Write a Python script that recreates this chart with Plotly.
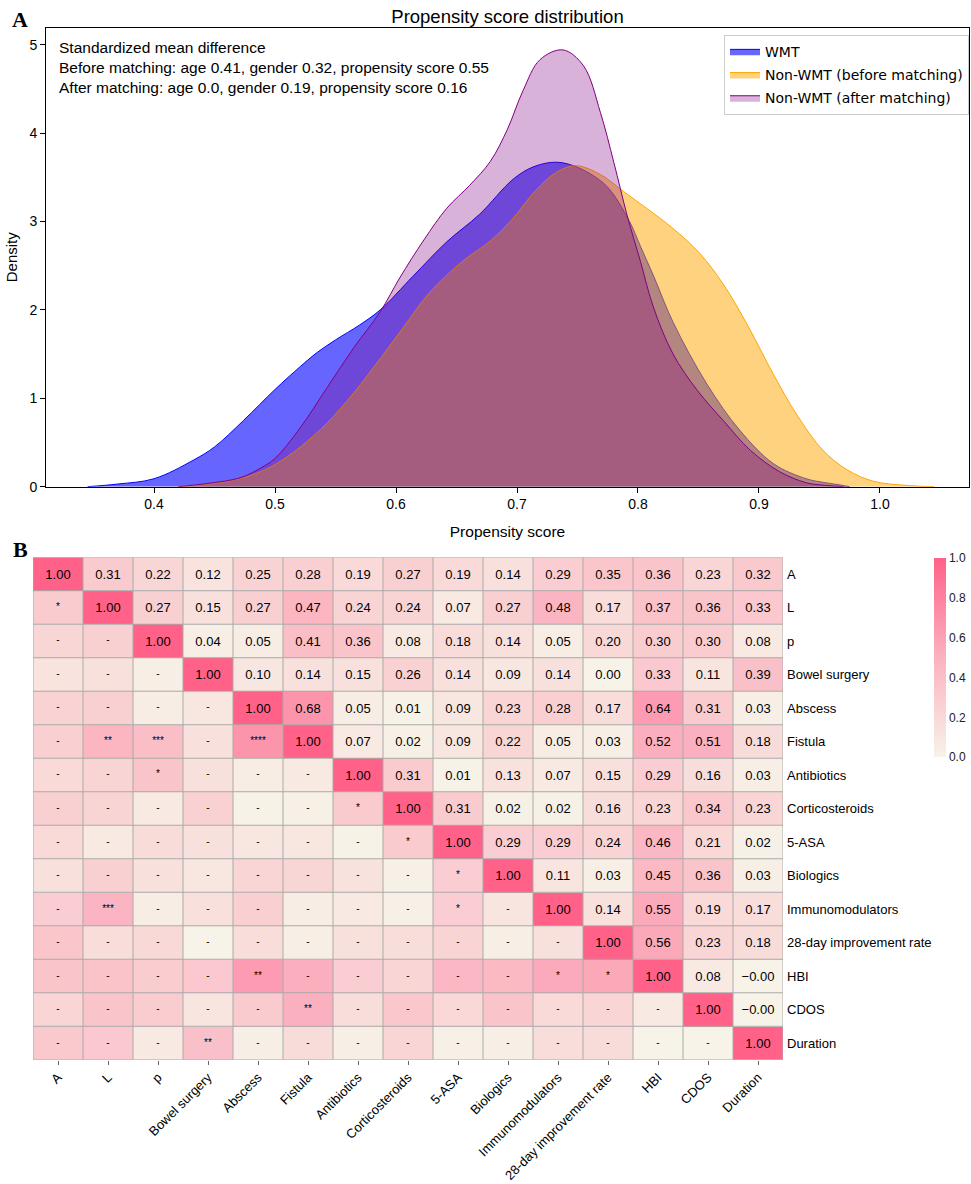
import plotly.graph_objects as go

# ---------------- Panel A data ----------------
wmt_x = [0.345, 0.37, 0.40, 0.4325, 0.45, 0.474, 0.50, 0.521, 0.535, 0.55, 0.570, 0.587, 0.614, 0.642,
         0.669, 0.697, 0.714, 0.733, 0.752, 0.774, 0.793, 0.802, 0.813, 0.829, 0.857, 0.884, 0.912,
         0.939, 0.955, 0.967, 0.975]
wmt_d = [0.0, 0.03, 0.09, 0.30, 0.45, 0.75, 1.10, 1.36, 1.52, 1.66, 1.83, 2.00, 2.38, 2.77,
         3.08, 3.48, 3.62, 3.67, 3.60, 3.40, 3.00, 2.72, 2.38, 1.86, 1.16, 0.64, 0.26,
         0.09, 0.045, 0.02, 0.0]

pre_x = [0.42, 0.446, 0.471, 0.488, 0.50, 0.521, 0.543, 0.565, 0.587, 0.606, 0.628, 0.656, 0.678,
         0.697, 0.716, 0.733, 0.749, 0.769, 0.788, 0.807, 0.829, 0.851, 0.871, 0.890, 0.912,
         0.931, 0.953, 0.973, 0.995, 1.022, 1.045]
pre_d = [0.0, 0.03, 0.09, 0.17, 0.25, 0.45, 0.72, 1.06, 1.45, 1.80, 2.20, 2.56, 2.78,
         3.04, 3.36, 3.56, 3.63, 3.53, 3.34, 3.15, 2.92, 2.64, 2.28, 1.84, 1.27,
         0.82, 0.41, 0.19, 0.06, 0.015, 0.0]

post_x = [0.42, 0.446, 0.471, 0.488, 0.50, 0.521, 0.543, 0.565, 0.587, 0.603, 0.623, 0.642, 0.661,
          0.678, 0.692, 0.705, 0.719, 0.738, 0.755, 0.769, 0.780, 0.791, 0.802, 0.813, 0.829,
          0.849, 0.871, 0.893, 0.917, 0.939, 0.955, 0.97]
post_d = [0.0, 0.04, 0.10, 0.21, 0.32, 0.67, 1.12, 1.57, 1.98, 2.36, 2.79, 3.15, 3.41,
          3.68, 4.04, 4.48, 4.83, 4.94, 4.76, 4.23, 3.67, 3.07, 2.55, 2.02, 1.50,
          1.09, 0.74, 0.41, 0.17, 0.045, 0.015, 0.0]

series_names = ["WMT", "Non-WMT (before matching)", "Non-WMT (after matching)"]
smd_lines = ["Standardized mean difference",
             "Before matching: age 0.41, gender 0.32, propensity score 0.55",
             "After matching: age 0.0, gender 0.19, propensity score 0.16"]
x_ticks = [0.4, 0.5, 0.6, 0.7, 0.8, 0.9, 1.0]
y_ticks = [0, 1, 2, 3, 4, 5]

# ---------------- Panel B data ----------------
labels = ["A", "L", "p", "Bowel surgery", "Abscess", "Fistula", "Antibiotics", "Corticosteroids",
          "5-ASA", "Biologics", "Immunomodulators", "28-day improvement rate", "HBI", "CDOS", "Duration"]

# upper triangle (diagonal onward) per row
upper_rows = [
    [1.00, 0.31, 0.22, 0.12, 0.25, 0.28, 0.19, 0.27, 0.19, 0.14, 0.29, 0.35, 0.36, 0.23, 0.32],
    [1.00, 0.27, 0.15, 0.27, 0.47, 0.24, 0.24, 0.07, 0.27, 0.48, 0.17, 0.37, 0.36, 0.33],
    [1.00, 0.04, 0.05, 0.41, 0.36, 0.08, 0.18, 0.14, 0.05, 0.20, 0.30, 0.30, 0.08],
    [1.00, 0.10, 0.14, 0.15, 0.26, 0.14, 0.09, 0.14, 0.00, 0.33, 0.11, 0.39],
    [1.00, 0.68, 0.05, 0.01, 0.09, 0.23, 0.28, 0.17, 0.64, 0.31, 0.03],
    [1.00, 0.07, 0.02, 0.09, 0.22, 0.05, 0.03, 0.52, 0.51, 0.18],
    [1.00, 0.31, 0.01, 0.13, 0.07, 0.15, 0.29, 0.16, 0.03],
    [1.00, 0.31, 0.02, 0.02, 0.16, 0.23, 0.34, 0.23],
    [1.00, 0.29, 0.29, 0.24, 0.46, 0.21, 0.02],
    [1.00, 0.11, 0.03, 0.45, 0.36, 0.03],
    [1.00, 0.14, 0.55, 0.19, 0.17],
    [1.00, 0.56, 0.23, 0.18],
    [1.00, 0.08, -0.004],
    [1.00, -0.004],
    [1.00],
]

# significance marks below the diagonal, per row
lower_rows = [
    [],
    ["*"],
    ["-", "-"],
    ["-", "-", "-"],
    ["-", "-", "-", "-"],
    ["-", "**", "***", "-", "****"],
    ["-", "-", "*", "-", "-", "-"],
    ["-", "-", "-", "-", "-", "-", "*"],
    ["-", "-", "-", "-", "-", "-", "-", "*"],
    ["-", "-", "-", "-", "-", "-", "-", "-", "*"],
    ["-", "***", "-", "-", "-", "-", "-", "-", "*", "-"],
    ["-", "-", "-", "-", "-", "-", "-", "-", "-", "-", "-"],
    ["-", "-", "-", "-", "**", "-", "-", "-", "-", "-", "*", "*"],
    ["-", "-", "-", "-", "-", "**", "-", "-", "-", "-", "-", "-", "-"],
    ["-", "-", "-", "**", "-", "-", "-", "-", "-", "-", "-", "-", "-", "-"],
]
cbar_ticks = [0.0, 0.2, 0.4, 0.6, 0.8, 1.0]

# ---------------- build ----------------
W, H = 971, 1184
n = len(labels)
z = [[None] * n for _ in range(n)]
txt = [[""] * n for _ in range(n)]
for i, row in enumerate(upper_rows):
    for k, v in enumerate(row):
        j = i + k
        z[i][j] = v
        z[j][i] = v
        txt[i][j] = f"{v:.2f}".replace("-", "\u2212")

sx, sy, st = [], [], []
for i, row in enumerate(lower_rows):
    for j, s in enumerate(row):
        sx.append(j)
        sy.append(i)
        st.append(s)

fig = go.Figure()

fills = ["rgba(0,0,255,0.6)", "rgba(255,165,0,0.5)", "rgba(128,0,128,0.3)"]
lines = ["rgb(0,0,255)", "rgb(255,165,0)", "rgb(128,0,128)"]
for k, (name, xs, ds, fc, lc) in enumerate(zip(series_names, [wmt_x, pre_x, post_x],
                                                [wmt_d, pre_d, post_d], fills, lines)):
    fig.add_trace(go.Scatter(x=xs, y=ds, mode="lines", name=name, fill="tozeroy", legendgroup=f"g{k}",
                             fillcolor=fc, line=dict(color=lc, width=1, shape="spline", smoothing=1.0),
                             xaxis="x", yaxis="y"))

pink_scale = [[0.0, "#F7F3E8"], [0.5, "#FBB2C0"], [1.0, "#FF6189"]]
font_main = "Liberation Sans, Arial"
fig.add_trace(go.Heatmap(
    z=z, x=list(range(n)), y=list(range(n)), text=txt, texttemplate="%{text}",
    textfont=dict(family=font_main, size=13, color="black"),
    colorscale=pink_scale, zmin=0, zmax=1, xaxis="x2", yaxis="y2", showscale=True,
    colorbar=dict(x=934 / W, xanchor="left", xpad=0, y=1 - 562 / H, yanchor="top", ypad=0,
                  len=(762 - 562) / H, lenmode="fraction", thickness=12, outlinewidth=0,
                  tickvals=cbar_ticks, ticktext=[f"{t:.1f}" for t in cbar_ticks], ticks="",
                  tickfont=dict(family=font_main, size=12, color="#222")),
    hoverinfo="skip"))

fig.add_trace(go.Scatter(x=sx, y=sy, text=st, mode="text", xaxis="x2", yaxis="y2",
                         textfont=dict(family=font_main, size=10, color="black"),
                         showlegend=False, hoverinfo="skip"))

shapes = []
for k in range(n + 1):
    shapes.append(dict(type="line", xref="x2", yref="y2", x0=k - 0.5, x1=k - 0.5, y0=-0.5, y1=n - 0.5,
                       line=dict(color="#AAAAAA", width=1), layer="above"))
    shapes.append(dict(type="line", xref="x2", yref="y2", y0=k - 0.5, y1=k - 0.5, x0=-0.5, x1=n - 0.5,
                       line=dict(color="#AAAAAA", width=1), layer="above"))

annotations = [
    dict(text="<b>A</b>", x=20 / W, y=1 - 20 / H, xref="paper", yref="paper", showarrow=False,
         font=dict(family="Liberation Serif, Times New Roman", size=22, color="black"),
         xanchor="center", yanchor="middle"),
    dict(text="<b>B</b>", x=20 / W, y=1 - 553 / H, xref="paper", yref="paper", showarrow=False,
         font=dict(family="Liberation Serif, Times New Roman", size=22, color="black"),
         xanchor="center", yanchor="middle"),
    dict(text="<br>".join(smd_lines), x=57 / W, y=1 - 37 / H, xref="paper", yref="paper",
         showarrow=False, align="left", xanchor="left", yanchor="top",
         font=dict(family=font_main, size=15.5, color="black")),
]

fig.update_layout(
    width=W, height=H, margin=dict(l=0, r=0, t=0, b=0),
    paper_bgcolor="white", plot_bgcolor="rgba(0,0,0,0)",
    font=dict(family=font_main, size=13, color="black"),
    title=dict(text="Propensity score distribution", x=507.5 / W, y=1 - 17 / H,
               xanchor="center", yanchor="middle", font=dict(family=font_main, size=18.5, color="black")),
    xaxis=dict(domain=[46 / W, 969 / W], anchor="y", range=[0.3107, 1.0736], tickvals=x_ticks,
               ticktext=[f"{t:.1f}" for t in x_ticks], ticks="outside", ticklen=5, tickcolor="black",
               showline=True, mirror=True, linecolor="black", linewidth=1, showgrid=False, zeroline=False,
               tickfont=dict(size=14), title=dict(text="Propensity score", font=dict(size=15.5), standoff=14)),
    yaxis=dict(domain=[1 - 490 / H, 1 - 28 / H], anchor="x", range=[0, 5.19], tickvals=y_ticks,
               ticks="outside", ticklen=5, tickcolor="black", showline=True, mirror=True,
               linecolor="black", linewidth=1, showgrid=False, zeroline=False, tickfont=dict(size=14),
               title=dict(text="Density", font=dict(size=15), standoff=8)),
    xaxis2=dict(domain=[33 / W, 783 / W], anchor="y2", range=[-0.5, n - 0.5], tickvals=list(range(n)),
                ticktext=labels, tickangle=-45, showgrid=False, zeroline=False, showline=False,
                ticks="outside", ticklen=4, tickcolor="#666", tickfont=dict(size=13)),
    yaxis2=dict(domain=[1 - 1067 / H, 1 - 561 / H], anchor="x2", range=[n - 0.5, -0.5],
                tickvals=list(range(n)), ticktext=labels, side="right", showgrid=False, zeroline=False,
                showline=False, ticks="", tickfont=dict(size=13), ticklabelstandoff=3),
    legend=dict(x=969 / W, xanchor="right", y=1 - 35 / H, yanchor="top", bgcolor="rgba(255,255,255,0.8)",
                bordercolor="#CCCCCC", borderwidth=1, font=dict(family="DejaVu Sans", size=14, color="black"),
                itemwidth=30, tracegroupgap=2),
    shapes=shapes, annotations=annotations,
)

fig.write_html("out.html", config={"displayModeBar": False},
               post_script="document.body.style.margin='0';document.body.style.overflow='hidden';")
